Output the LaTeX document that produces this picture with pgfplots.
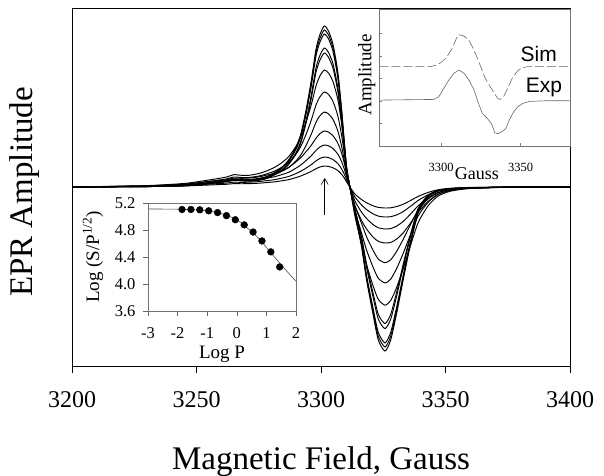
\documentclass[border=0pt]{standalone}
\usepackage{pgfplots}
\pgfplotsset{compat=1.18}
\usepackage{pgfplotstable}
\usepackage{fontspec}
\setmainfont{Liberation Serif}
\newfontfamily\sansf{Liberation Sans}
\usetikzlibrary{arrows.meta}

% EPR line shapes (normalised, peak = 100): A = strongly saturated, B = intermediate, C = weak
\pgfplotstableread{
x A B C
3200 0 0 0
3230 0.3 1.2 2
3245 0.9 3 5
3252 1.9 5 8
3258 3.1 7 11
3262 4.0 8.5 13
3265 4.9 10.5 16
3268 4.6 10 15.5
3271 4.3 10 16
3275 5.0 11.5 18
3278 6.2 13.6 21
3281 8.7 16.4 24
3284 11.8 20.4 29
3287 16.8 25.9 35
3290 24.8 34.9 45
3292 33.5 43.3 53
3294 47.8 55.4 63
3296 65.2 69.6 74
3298 85.7 86.4 87
3299.5 94.4 94.7 95
3301.3 100 100 100
3303 96.9 97.5 98
3304.7 89.4 90.7 92
3306 78.9 81.5 84
3307 68.3 72.2 76
3308.3 47.8 53.9 60
3309.4 27.3 34.7 42
3310.3 11.2 17.6 24
3311.6 0 0 0
3313.6 -16.1 -24.6 -33
3316.3 -37.3 -48.7 -60
3318.3 -57.8 -66.4 -75
3320.8 -78.3 -83.7 -89
3323 -95.0 -96 -97
3325.7 -101.9 -101 -100
3328 -95.0 -97 -99
3330.4 -78.3 -85.7 -93
3333 -57.8 -69.9 -82
3335.7 -37.3 -51.7 -66
3339 -16.1 -30.6 -45
3343 -6.2 -16.1 -26
3347 -2.5 -7.8 -13
3352 -1.2 -3.6 -6
3360 -0.6 -1.3 -2
3380 0 0 0
3400 0 0 0
}\shapes

\pgfplotstableread{
logP L
-1.85 5.104
-1.55 5.104
-1.25 5.099
-0.95 5.084
-0.65 5.058
-0.35 5.013
-0.05 4.952
0.25 4.876
0.55 4.770
0.85 4.638
1.15 4.476
1.45 4.253
}\dots

\pgfplotstableread{
logP L
-3 5.112
-2 5.108
-1.5 5.100
-1.0 5.085
-0.5 5.040
0.0 4.950
0.5 4.775
0.8 4.645
1.1 4.490
1.4 4.335
1.7 4.185
2.0 4.040
}\fitline

\pgfplotstableread{
G y
3261.2 -200
3293.3 -200
3297.5 -195
3300.7 -185
3303.8 -170
3307.0 -145
3309.7 -115
3311.2 -105
3313.3 -107
3315.4 -112
3317.5 -122
3319.6 -140
3322.4 -170
3324.9 -200
3327.5 -232
3330.2 -255
3332.9 -275
3335.5 -295
3337.2 -298
3339.3 -290
3341.8 -265
3345.0 -232
3348.2 -212
3351.3 -203
3354.5 -200
3380.8 -200
}\sim

\pgfplotstableread{
G y
3261.2 -300
3295.4 -298
3298.6 -290
3301.7 -265
3304.9 -240
3308.0 -220
3311.2 -210
3314.4 -220
3317.5 -240
3320.7 -270
3323.9 -315
3326.0 -340
3329.1 -355
3331.7 -370
3333.8 -398
3335.9 -400
3338.6 -393
3340.7 -385
3342.8 -360
3345.6 -335
3348.2 -320
3351.3 -310
3355.5 -304
3365.0 -302
3380.8 -302
}\expdata

\pgfplotsset{epr/.style={black, mark=none, line width=0.95bp, smooth, tension=0.4}}

\begin{document}
\begin{tikzpicture}
\useasboundingbox (0,0) rectangle (604bp,476bp);
% ---------------- main axis ----------------
\begin{axis}[
  at={(72bp,109bp)}, anchor=south west,
  scale only axis, width=498bp, height=358bp,
  xmin=3200, xmax=3400, ymin=-180, ymax=178,
  xtick={3200,3250,3300,3350,3400},
  xticklabels={3200,3250,3300,3350,3400},
  ytick=\empty,
  xtick pos=bottom,
  tick align=outside, major tick length=6bp,
  axis line style={line width=1bp},
  tick style={black, line width=0.8bp},
  xticklabel style={font=\fontsize{24bp}{28bp}\selectfont, yshift=-15bp},
  xlabel={Magnetic Field, Gauss},
  xlabel style={font=\fontsize{33bp}{38bp}\selectfont, at={(axis description cs:0.5,-0.285)}, anchor=base},
  ylabel={EPR Amplitude},
  ylabel style={font=\fontsize{33bp}{38bp}\selectfont, at={(axis description cs:-0.0803,0.489)}, anchor=base},
]
\addplot[epr] table[x=x, y expr=\thisrow{A}*1.61] {\shapes};
\addplot[epr] table[x=x, y expr=\thisrow{A}*1.57] {\shapes};
\addplot[epr] table[x=x, y expr=\thisrow{A}*1.53] {\shapes};
\addplot[epr] table[x=x, y expr=\thisrow{A}*1.39] {\shapes};
\addplot[epr] table[x=x, y expr=\thisrow{A}*1.34] {\shapes};
\addplot[epr] table[x=x, y expr=\thisrow{B}*1.17] {\shapes};
\addplot[epr] table[x=x, y expr=\thisrow{B}*0.95] {\shapes};
\addplot[epr] table[x=x, y expr=\thisrow{B}*0.75] {\shapes};
\addplot[epr] table[x=x, y expr=\thisrow{C}*0.56] {\shapes};
\addplot[epr] table[x=x, y expr=\thisrow{C}*0.42] {\shapes};
\addplot[epr] table[x=x, y expr=\thisrow{C}*0.30] {\shapes};
\addplot[epr] table[x=x, y expr=\thisrow{C}*0.21] {\shapes};
\draw[-{Straight Barb[length=6bp,width=7bp]}, line width=0.6bp] (axis cs:3301.5,-28) -- (axis cs:3301.5,9);
\end{axis}

% ---------------- lower-left inset ----------------
\begin{axis}[
  at={(148bp,165bp)}, anchor=south west,
  scale only axis, width=148bp, height=108bp,
  xmin=-3, xmax=2, ymin=3.6, ymax=5.2,
  xtick={-3,-2,-1,0,1,2}, xticklabels={-3,-2,-1,0,1,2},
  ytick={3.6,4.0,4.4,4.8,5.2}, yticklabels={3.6,4.0,4.4,4.8,5.2},
  xtick pos=bottom, ytick pos=left,
  tick align=outside, major tick length=5bp,
  axis line style={black!55, line width=0.6bp},
  tick style={black!60, line width=0.6bp},
  xticklabel style={font=\fontsize{16.5bp}{19bp}\selectfont, yshift=-8bp},
  yticklabel style={font=\fontsize{16.5bp}{19bp}\selectfont, xshift=-4bp},
  xlabel={Log P},
  xlabel style={font=\fontsize{19bp}{22bp}\selectfont, at={(axis description cs:0.5,-0.444)}, anchor=base},
  ylabel={Log (S/P\textsuperscript{1/2})},
  ylabel style={font=\fontsize{19bp}{22bp}\selectfont, at={(axis description cs:-0.331,0.5)}, anchor=base},
  axis background/.style={fill=white},
]
\addplot[black!70, mark=none, line width=0.6bp, smooth] table[x=logP, y=L] {\fitline};
\addplot[only marks, mark=*, mark size=3.4bp, black] table[x=logP, y=L] {\dots};
\end{axis}

% ---------------- upper-right inset ----------------
\begin{axis}[
  at={(379bp,330bp)}, anchor=south west,
  scale only axis, width=191bp, height=137bp,
  xmin=3261, xmax=3381, ymin=-437, ymax=-28,
  xtick={3300,3350}, xticklabels={3300,3350},
  ytick={-370,-302,-235,-168,-100}, yticklabels={},
  xtick pos=bottom, ytick pos=left,
  tick align=inside, major tick length=2.5bp,
  axis line style={black!55, line width=0.6bp},
  tick style={black!50, line width=0.5bp},
  xticklabel style={font=\fontsize{12.5bp}{15bp}\selectfont, yshift=-14bp},
  xlabel={Gauss},
  xlabel style={font=\fontsize{18bp}{20bp}\selectfont, at={(axis description cs:0.513,-0.241)}, anchor=base},
  ylabel={Amplitude},
  ylabel style={font=\fontsize{19bp}{22bp}\selectfont, at={(axis description cs:-0.040,0.518)}, anchor=base},
]
\addplot[black!60, mark=none, line width=0.6bp, dash pattern=on 9bp off 3bp] table[x=G, y=y] {\sim};
\addplot[black!60, mark=none, line width=0.6bp] table[x=G, y=y] {\expdata};
\node[font=\sansf\fontsize{21bp}{24bp}\selectfont] at (axis cs:3361.4,-162) {Sim};
\node[font=\sansf\fontsize{21bp}{24bp}\selectfont] at (axis cs:3364.6,-261) {Exp};
\end{axis}
\end{tikzpicture}
\end{document}
